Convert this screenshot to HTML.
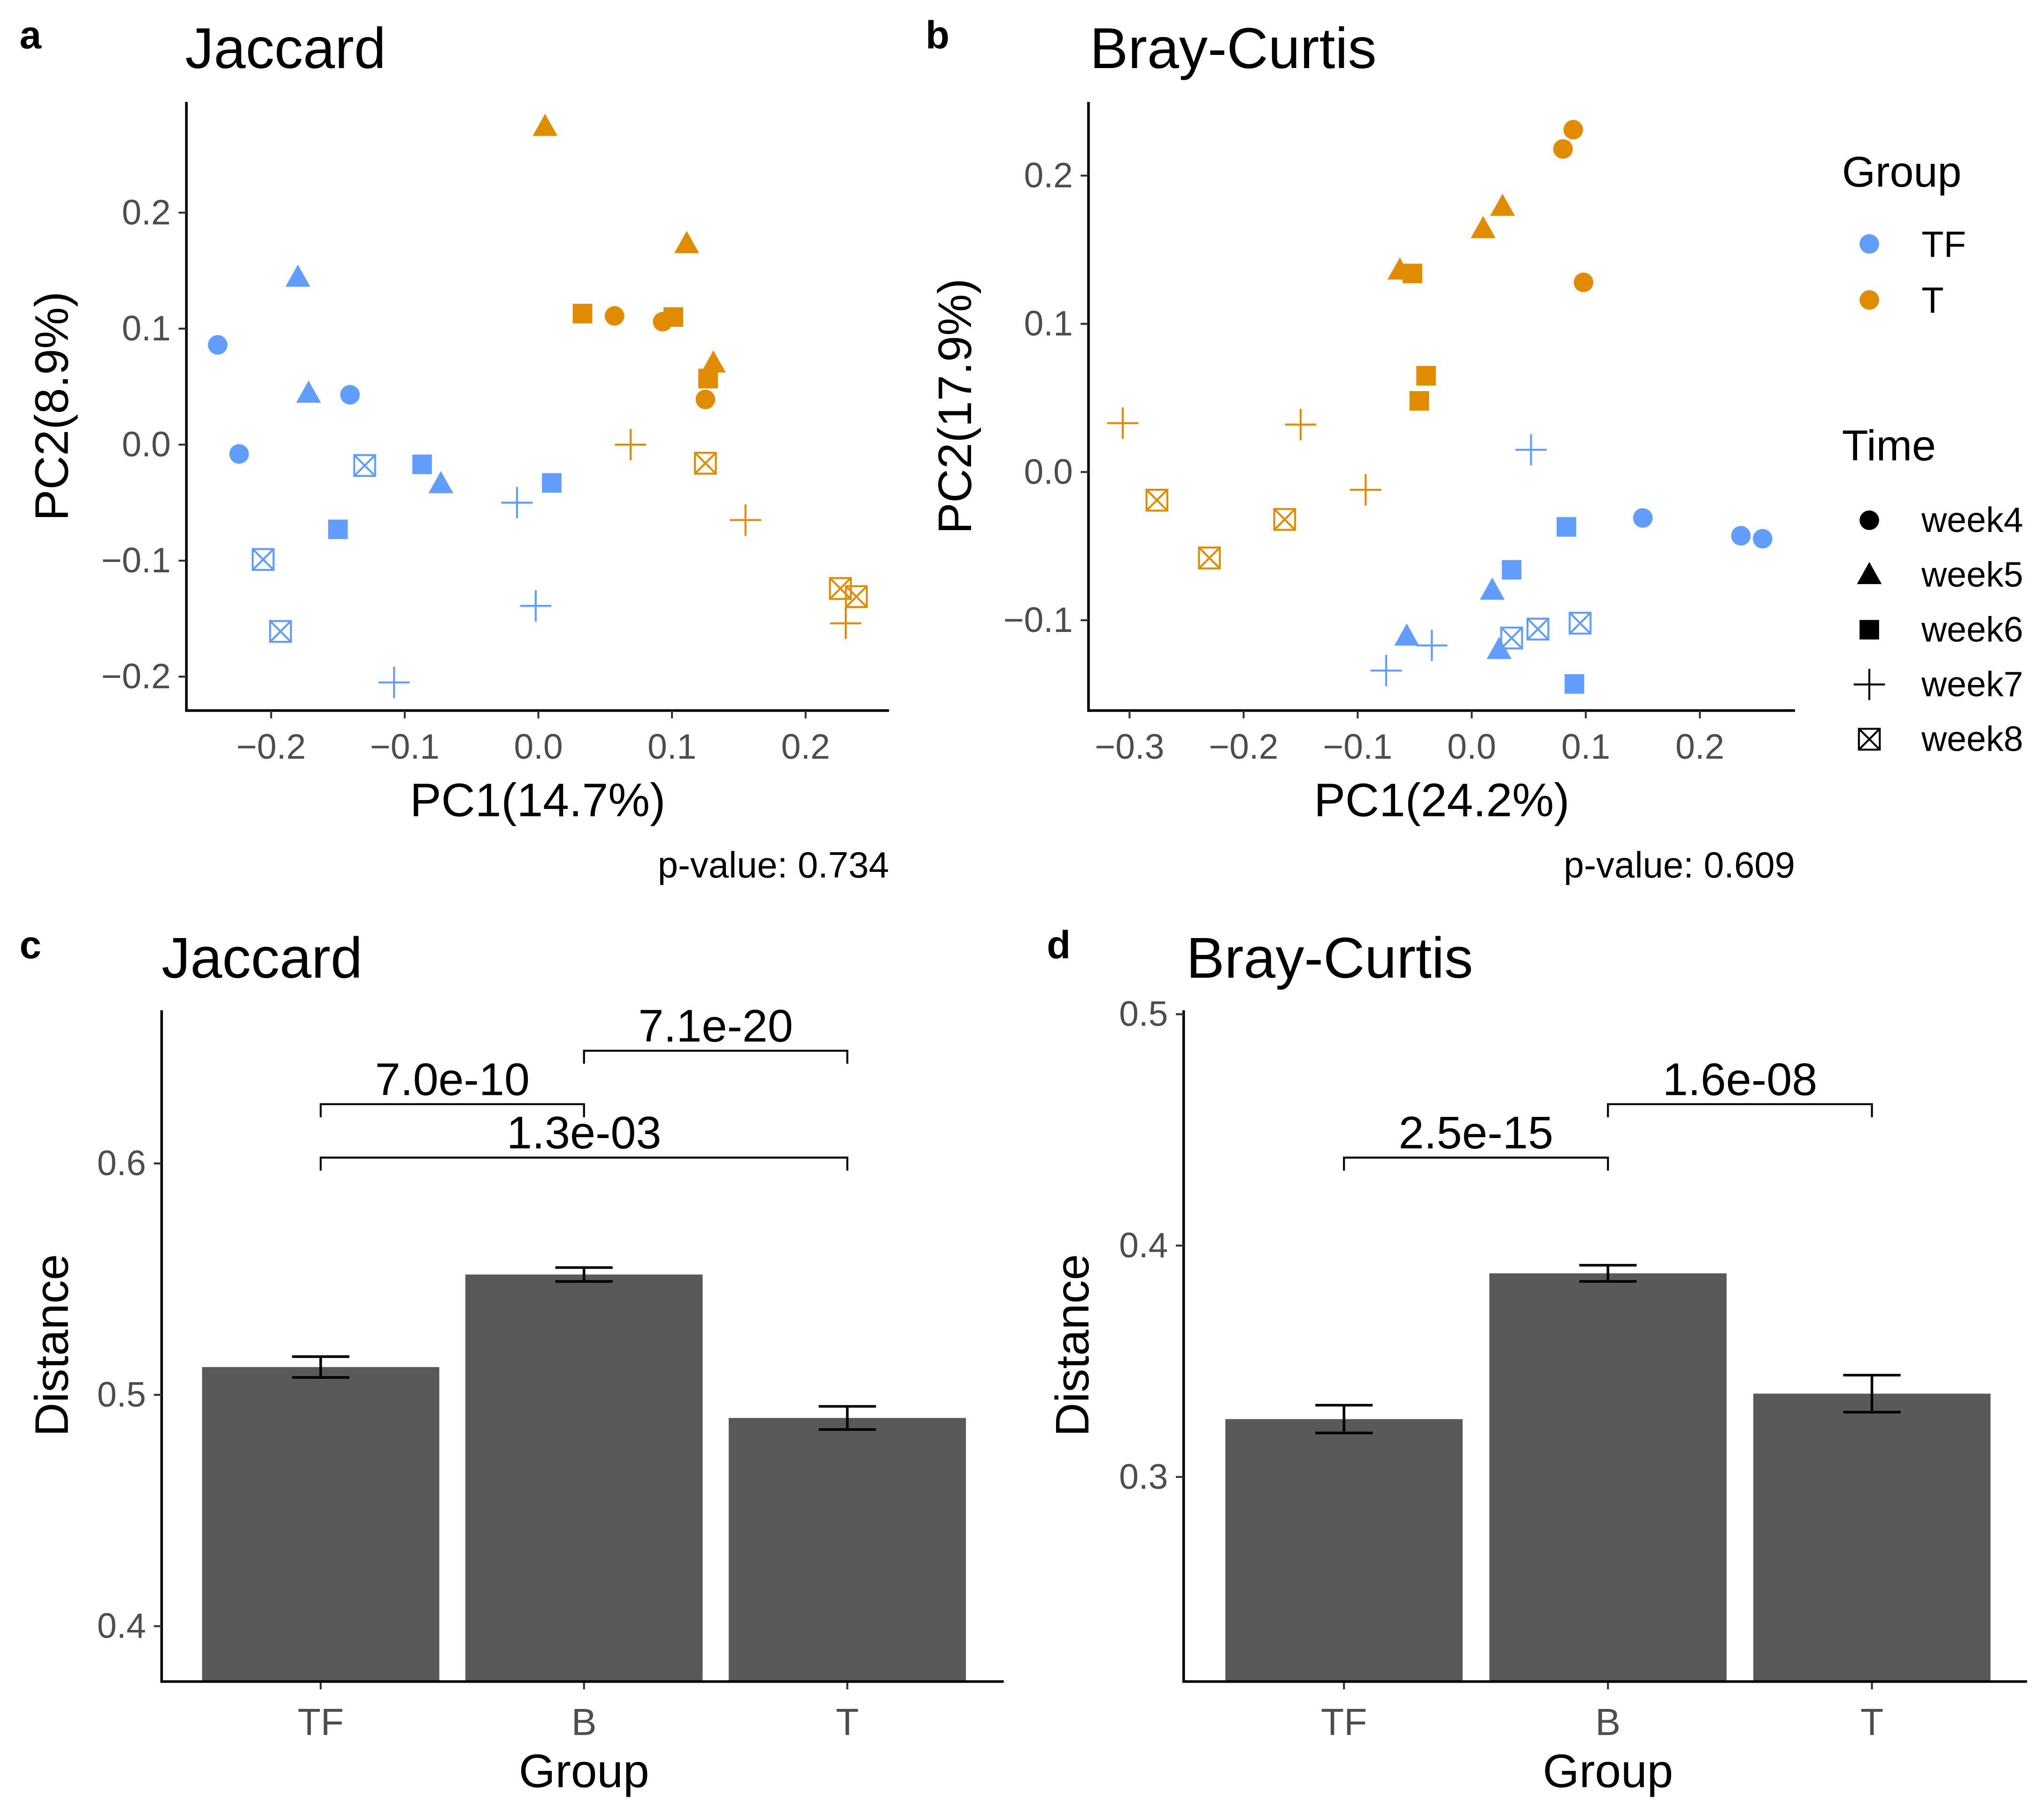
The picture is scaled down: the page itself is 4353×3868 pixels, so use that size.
<!DOCTYPE html>
<html><head><meta charset="utf-8"><style>
html,body{margin:0;padding:0;background:#fff}
svg{display:block}
text{font-family:"Liberation Sans",Arial,sans-serif}
</style></head><body>
<svg id="fig" width="4353" height="3868" viewBox="0 0 1568 1393" xmlns="http://www.w3.org/2000/svg"></svg>
<script>
// ---- Panel a data (Jaccard PCoA) ----
const aTF_x=[-0.240,-0.224,-0.141,-0.180,-0.172,-0.073,-0.150,-0.087,0.010,-0.108,-0.016,-0.002,-0.206,-0.193,-0.130];
const aTF_y=[0.086,-0.008,0.043,0.144,0.044,-0.034,-0.073,-0.017,-0.033,-0.205,-0.050,-0.139,-0.099,-0.161,-0.018];
const aT_x=[0.057,0.093,0.125,0.005,0.111,0.131,0.033,0.101,0.127,0.069,0.155,0.230,0.125,0.226,0.238];
const aT_y=[0.111,0.106,0.039,0.274,0.173,0.070,0.113,0.110,0.057,0.000,-0.065,-0.154,-0.016,-0.124,-0.131];
const aWeek=[4,4,4,5,5,5,6,6,6,7,7,7,8,8,8];
// ---- Panel b data (Bray-Curtis PCoA) ----
const bTF_x=[0.150,0.236,0.255,0.018,-0.057,0.024,0.083,0.035,0.090,0.052,-0.075,-0.035,0.035,0.058,0.095];
const bTF_y=[-0.031,-0.043,-0.045,-0.080,-0.111,-0.120,-0.037,-0.066,-0.143,0.015,-0.134,-0.117,-0.112,-0.106,-0.102];
const bT_x=[0.089,0.080,0.098,0.010,0.027,-0.063,-0.052,-0.040,-0.046,-0.306,-0.150,-0.093,-0.276,-0.164,-0.230];
const bT_y=[0.231,0.218,0.128,0.164,0.179,0.136,0.134,0.065,0.048,0.033,0.032,-0.012,-0.019,-0.032,-0.058];
// ---- Panel c/d bar data ----
const barCats=["TF","B","T"];
const cMeans=[0.512,0.552,0.490];
const cErr=[0.0045,0.003,0.005];
const dMeans=[0.325,0.388,0.336];
const dErr=[0.006,0.0035,0.008];
const cTicks=[0.4,0.5,0.6];
const dTicks=[0.3,0.4,0.5];
const cPvals=["7.0e-10","7.1e-20","1.3e-03"];
const dPvals=["2.5e-15","1.6e-08"];

const NS="http://www.w3.org/2000/svg";
const svg=document.getElementById('fig');
const BLUE="#619CFF", ORANGE="#E08B00";
function el(tag,attrs,parent){const e=document.createElementNS(NS,tag);for(const k in attrs)e.setAttribute(k,attrs[k]);(parent||svg).appendChild(e);return e;}
function txt(s,x,y,size,opts,parent){opts=opts||{};const t=el('text',{x:x,y:y,'font-size':size,fill:opts.fill||'#000','text-anchor':opts.anchor||'start','font-weight':opts.weight||'normal'},parent);if(opts.rot)t.setAttribute('transform','rotate(-90 '+x+' '+y+')');t.textContent=s;return t;}

function marker(g,week,cx,cy,color){
  let m;
  if(week===4){m=el('circle',{cx:cx,cy:cy,r:7.5,fill:color},g);}
  else if(week===5){m=el('polygon',{points:(cx)+','+(cy-10)+' '+(cx-9.5)+','+(cy+7)+' '+(cx+9.5)+','+(cy+7),fill:color},g);}
  else if(week===6){m=el('rect',{x:cx-7.5,y:cy-7.5,width:15,height:15,fill:color},g);}
  else if(week===7){m=el('path',{d:'M'+(cx-12)+' '+cy+'H'+(cx+12)+'M'+cx+' '+(cy-12)+'V'+(cy+12),stroke:color,'stroke-width':1.5,fill:'none'},g);}
  else {m=el('path',{d:'M'+(cx-8)+' '+(cy-8)+'h16v16h-16zM'+(cx-8)+' '+(cy-8)+'l16 16M'+(cx+8)+' '+(cy-8)+'l-16 16',stroke:color,'stroke-width':1.5,fill:'none'},g);}
  
  
  return m;
}

function scatter(cfg){
  const g=el('g',{});
  
  
  const X=v=>cfg.x0+v*cfg.xs, Y=v=>cfg.y0-v*cfg.ys;
  const ax=el('path',{d:'M'+cfg.left+' '+cfg.top+'V'+cfg.bottom+'H'+cfg.right,stroke:'#000','stroke-width':2,fill:'none'},g);
  
  
  cfg.xt.forEach(v=>{const x=X(v);el('line',{x1:x,x2:x,y1:cfg.bottom,y2:cfg.bottom+6,stroke:'#333','stroke-width':1.5},g);
    const t=txt((v<0?'\u2212':'')+Math.abs(v).toFixed(1),x,cfg.bottom+37,27,{anchor:'middle',fill:'#4D4D4D'},g);});
  cfg.yt.forEach(v=>{const y=Y(v);el('line',{x1:cfg.left-6,x2:cfg.left,y1:y,y2:y,stroke:'#333','stroke-width':1.5},g);
    const t=txt((v<0?'\u2212':'')+Math.abs(v).toFixed(1),cfg.left-12,y+9,27,{anchor:'end',fill:'#4D4D4D'},g);});
  for(let i=0;i<aWeek.length;i++){marker(g,aWeek[i],X(cfg.tfx[i]),Y(cfg.tfy[i]),BLUE);}
  for(let i=0;i<aWeek.length;i++){marker(g,aWeek[i],X(cfg.tx[i]),Y(cfg.ty[i]),ORANGE);}
  let t=txt(cfg.xlab,(cfg.left+cfg.right)/2,cfg.bottom+81,36,{anchor:'middle'},g);
  t=txt(cfg.ylab,cfg.ylx,(cfg.top+cfg.bottom)/2,36,{anchor:'middle',rot:true},g);
  t=txt(cfg.pv,cfg.right,cfg.bottom+128,28,{anchor:'end'},g);
}

scatter({name:'panel-a-jaccard-pcoa',left:143,right:682,top:78,bottom:545,x0:413,xs:1025,y0:341,ys:890,
  xt:[-0.2,-0.1,0.0,0.1,0.2],yt:[-0.2,-0.1,0.0,0.1,0.2],tfx:aTF_x,tfy:aTF_y,tx:aT_x,ty:aT_y,
  xlab:'PC1(14.7%)',ylab:'PC2(8.9%)',ylx:52,pv:'p-value: 0.734'});
scatter({name:'panel-b-bray-curtis-pcoa',left:835,right:1377,top:78,bottom:545,x0:1129,xs:875,y0:362,ys:1137,
  xt:[-0.3,-0.2,-0.1,0.0,0.1,0.2],yt:[-0.1,0.0,0.1,0.2],tfx:bTF_x,tfy:bTF_y,tx:bT_x,ty:bT_y,
  xlab:'PC1(24.2%)',ylab:'PC2(17.9%)',ylx:745,pv:'p-value: 0.609'});

function bars(cfg){
  const g=el('g',{});
  
  
  const Y=v=>cfg.yref-(v-cfg.vref)*1775;
  const X=i=>cfg.c0+i*cfg.step;
  cfg.means.forEach((m,i)=>{
    const b=el('rect',{x:X(i)-91,y:Y(m),width:182,height:cfg.bottom-Y(m),fill:'#595959'},g);
    
    
    const e=el('path',{d:'M'+(X(i)-22)+' '+Y(m+cfg.err[i])+'h44M'+X(i)+' '+Y(m+cfg.err[i])+'V'+Y(m-cfg.err[i])+'M'+(X(i)-22)+' '+Y(m-cfg.err[i])+'h44',stroke:'#000','stroke-width':2,fill:'none'},g);
    
    
    el('line',{x1:X(i),x2:X(i),y1:cfg.bottom,y2:cfg.bottom+6,stroke:'#333','stroke-width':1.5},g);
    const t=txt(barCats[i],X(i),cfg.bottom+41,29,{anchor:'middle',fill:'#4D4D4D'},g);
  });
  const ax=el('path',{d:'M'+cfg.left+' '+cfg.top+'V'+cfg.bottom+'H'+cfg.right,stroke:'#000','stroke-width':2,fill:'none'},g);
  
  
  cfg.ticks.forEach(v=>{const y=Y(v);el('line',{x1:cfg.left-6,x2:cfg.left,y1:y,y2:y,stroke:'#333','stroke-width':1.5},g);
    const t=txt(v.toFixed(1),cfg.left-12,y+9,27,{anchor:'end',fill:'#4D4D4D'},g);});
  cfg.brackets.forEach((br,k)=>{
    const x1=X(br[0]),x2=X(br[1]),y=br[2];
    const p=el('path',{d:'M'+x1+' '+(y+10)+'V'+y+'H'+x2+'V'+(y+10),stroke:'#000','stroke-width':1.5,fill:'none'},g);
    
    
    const t=txt(cfg.pvals[k],(x1+x2)/2,y-7,35,{anchor:'middle'},g);
  });
  let t=txt('Group',X(1),cfg.bottom+81,36,{anchor:'middle'},g);
  t=txt('Distance',cfg.ylx,1032,36,{anchor:'middle',rot:true},g);
}
bars({name:'panel-c-jaccard-distance',left:124,right:770,top:775,bottom:1290,c0:246,step:202,yref:1070,vref:0.5,
  means:cMeans,err:cErr,ticks:cTicks,pvals:cPvals,brackets:[[0,1,847],[1,2,806],[0,2,888]],ylx:52});
bars({name:'panel-d-bray-curtis-distance',left:908,right:1555,top:775,bottom:1290,c0:1031,step:202.5,yref:1133,vref:0.3,
  means:dMeans,err:dErr,ticks:dTicks,pvals:dPvals,brackets:[[0,1,888],[1,2,847]],ylx:835});

// titles and panel letters
[['a',15,37,'panel-letter-a'],['b',710,37,'panel-letter-b'],['c',15,735,'panel-letter-c'],['d',803,735,'panel-letter-d']].forEach(p=>{
  const t=txt(p[0],p[1],p[2],30,{weight:'bold'});});
[['Jaccard',142,52,'title-a'],['Bray-Curtis',836,52,'title-b'],['Jaccard',124,750,'title-c'],['Bray-Curtis',910,750,'title-d']].forEach(p=>{
  const t=txt(p[0],p[1],p[2],44);});

// legend
const lg=el('g',{});


let lt=txt('Group',1413,143,33,{},lg);
[['TF',BLUE,187],['T',ORANGE,230]].forEach(r=>{marker(lg,4,1434,r[2],r[1]);const t=txt(r[0],1474,r[2]+10,28,{},lg);});
lt=txt('Time',1413,353,33,{},lg);
[4,5,6,7,8].forEach((w,i)=>{const y=399+i*42;marker(lg,w,1434,y,'#000');const t=txt('week'+w,1474,y+9,27,{},lg);});
</script>
</body></html>
